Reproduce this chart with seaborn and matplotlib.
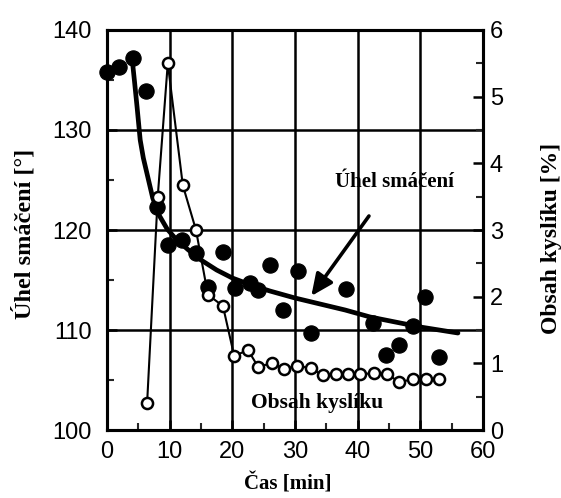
import matplotlib
matplotlib.use("Agg")
import matplotlib.pyplot as plt
import seaborn as sns
import pandas as pd

# Contact angle measurements (left axis)
uhel_cas = [0, 1.9, 4.1, 6.2, 8.0, 9.7, 12.0, 14.2, 16.1, 18.5, 20.4, 22.8, 24.1,
            26.0, 28.1, 30.5, 32.5, 38.2, 42.4, 44.5, 46.6, 48.8, 50.7, 52.9]
uhel_hodnoty = [135.8, 136.3, 137.2, 133.9, 122.3, 118.5, 119.0, 117.7, 114.3, 117.8,
                114.2, 114.7, 114.0, 116.5, 112.0, 115.9, 109.7, 114.1, 110.7, 107.5,
                108.5, 110.4, 113.3, 107.3]

# Trend curve of the contact angle
trend_cas = [4.0, 4.4, 4.8, 5.3, 5.8, 6.4, 7.3, 8.3, 9.6, 11.0, 13.0, 15.0, 17.5,
             20.0, 23.0, 26.0, 30.0, 34.0, 38.0, 42.0, 46.0, 50.0, 53.0, 56.0]
trend_uhel = [137.2, 134.8, 132.3, 129.0, 127.2, 125.6, 123.2, 121.5, 120.1, 119.1,
              118.0, 117.0, 116.0, 115.2, 114.5, 113.9, 113.2, 112.6, 112.0, 111.3,
              110.8, 110.3, 110.0, 109.7]

# Oxygen content (right axis)
kyslik_cas = [6.4, 8.1, 9.7, 12.1, 14.2, 16.1, 18.5, 20.3, 22.5, 24.1, 26.3, 28.3,
              30.3, 32.5, 34.4, 36.5, 38.4, 40.4, 42.6, 44.7, 46.6, 48.8, 50.9, 53.0]
kyslik_hodnoty = [0.40, 3.50, 5.50, 3.67, 3.00, 2.03, 1.86, 1.11, 1.20, 0.95, 1.00, 0.92,
                  0.96, 0.93, 0.82, 0.84, 0.84, 0.84, 0.85, 0.84, 0.72, 0.76, 0.76, 0.76]

x_ticks = [0, 10, 20, 30, 40, 50, 60]
y_ticks = [100, 110, 120, 130, 140]
y2_ticks = [0, 1, 2, 3, 4, 5, 6]

sns.set_theme(style="white")
plt.rcParams["font.family"] = ["Liberation Sans", "DejaVu Sans"]
plt.rcParams["text.color"] = "black"
plt.rcParams["axes.labelcolor"] = "black"

fig = plt.figure(figsize=(5.61, 4.98), dpi=100)
ax = fig.add_axes([0.1907, 0.1365, 0.6703, 0.8033])
ax2 = ax.twinx()

df_uhel = pd.DataFrame({"cas": uhel_cas, "uhel": uhel_hodnoty})
df_trend = pd.DataFrame({"cas": trend_cas, "uhel": trend_uhel})
df_kyslik = pd.DataFrame({"cas": kyslik_cas, "kyslik": kyslik_hodnoty})

# grid
for gx in x_ticks[1:-1]:
    ax.axvline(gx, color="black", lw=1.8, zorder=1)
for gy in y_ticks[1:-1]:
    ax.axhline(gy, color="black", lw=1.8, zorder=1)

sns.lineplot(data=df_trend, x="cas", y="uhel", ax=ax, color="black", lw=3.4,
             zorder=3, sort=False)
sns.scatterplot(data=df_uhel, x="cas", y="uhel", ax=ax, color="black", s=120,
                edgecolor="black", zorder=4, clip_on=False)

sns.lineplot(data=df_kyslik, x="cas", y="kyslik", ax=ax2, color="black", lw=1.5,
             marker="o", markersize=8, markerfacecolor="white",
             markeredgecolor="black", markeredgewidth=1.8, zorder=5, sort=False)

ax.set_xlim(0, 60)
ax.set_ylim(100, 140)
ax2.set_ylim(0, 6)
ax.set_xticks(x_ticks)
ax.set_yticks(y_ticks)
ax2.set_yticks(y2_ticks)
ax.set_xticks([5, 15, 25, 35, 45, 55], minor=True)
ax.set_yticks([105, 115, 125, 135], minor=True)
ax2.set_yticks([0.5, 1.5, 2.5, 3.5, 4.5, 5.5], minor=True)

ax.tick_params(axis="x", which="major", direction="in", length=7, width=1.8,
               labelsize=17, pad=8, colors="black")
ax.tick_params(axis="y", which="major", direction="in", length=7, width=1.8,
               labelsize=17, pad=11, colors="black")
ax.tick_params(axis="both", which="minor", direction="in", length=5, width=1.5)
ax2.tick_params(axis="y", which="major", direction="in", length=7, width=1.8,
                labelsize=17, pad=5, colors="black")
ax2.tick_params(axis="y", which="minor", direction="in", length=5, width=1.5)
ax.tick_params(axis="y", which="both", left=True)
ax.tick_params(axis="x", which="both", bottom=True)
ax2.tick_params(axis="y", which="both", right=True)

for a in (ax, ax2):
    for sp in a.spines.values():
        sp.set_color("black")
        sp.set_linewidth(2.2)

def serif(size):
    return dict(family=["Liberation Serif", "DejaVu Serif"], weight="bold",
                size=size, color="black")

ax.set_xlabel("Čas [min]", **serif(15))
ax.set_ylabel("Úhel smáčení [°]", **serif(17.5))
ax2.set_ylabel("Obsah kyslíku [%]", **serif(17))
ax.xaxis.set_label_coords(0.48, -0.108)
ax.yaxis.set_label_coords(-0.19, 0.49)
ax2.yaxis.set_label_coords(1.155, 0.48)

ax.text(45.8, 124.8, "Úhel smáčení", ha="center", va="center", zorder=6, **serif(15))
ax.text(33.5, 102.7, "Obsah kyslíku", ha="center", va="center", zorder=6, **serif(15.5))
ax.annotate("", xy=(32.6, 113.4), xytext=(41.8, 121.4),
            arrowprops=dict(arrowstyle="-|>,head_length=1.1,head_width=0.5",
                            color="black", lw=2.6, shrinkA=0, shrinkB=0),
            zorder=6)

fig.savefig("out.png", dpi=100)
